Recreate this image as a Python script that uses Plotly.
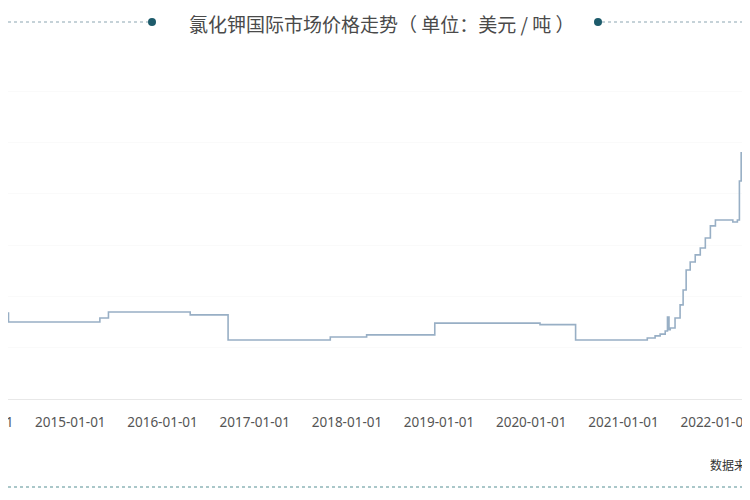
import plotly.graph_objects as go

# 氯化钾国际市场价格 (美元/吨)
dates = [
    "2014-01-01", "2014-05-01", "2015-04-28", "2015-06-01", "2016-04-20",
    "2016-09-17", "2017-10-27", "2018-03-20", "2018-12-15", "2020-02-05",
    "2020-06-25", "2021-04-05", "2021-05-06", "2021-05-26", "2021-06-15",
    "2021-06-24", "2021-06-30", "2021-07-05", "2021-07-24", "2021-08-13",
    "2021-08-25", "2021-09-06", "2021-09-22", "2021-10-12", "2021-11-01",
    "2021-11-21", "2021-12-11", "2021-12-31", "2022-02-08", "2022-03-10",
    "2022-03-28", "2022-04-05", "2022-04-12", "2022-04-20", "2022-05-01",
    "2022-05-26",
]
prices = [
    335, 300, 316, 339, 328,
    230, 242, 250, 296, 290,
    230, 238, 246, 253, 265,
    320, 270, 277, 316, 367,
    425, 503, 534, 562, 589,
    628, 675, 698, 698, 690,
    698, 850, 960, 990, 1005,
    1010,
]
tick_years = [2015, 2016, 2017, 2018, 2019, 2020, 2021, 2022]
tick_vals = [f"{y}-01-01" for y in tick_years]
cut_label = "2014-01-01"

title_text = "氯化钾国际市场价格走势（ 单位：美元 / 吨 ）"
source_text = "数据来源：百川盈孚"

# the page puts the figure 8px in from the top-left corner
OFF = 8
W, H = 750 - OFF, 500 - OFF
top, bottom = 40 - OFF, 399 - OFF
ph = bottom - top


def py(y):
    # window pixel row -> paper y
    return (bottom - (y - OFF)) / ph


def px(x):
    # window pixel column -> paper x
    return (x - OFF) / W


fig = go.Figure()
fig.add_trace(go.Scatter(
    x=dates, y=prices, mode="lines", line_shape="hv",
    line=dict(color="#98afc5", width=1.6), hoverinfo="skip",
))

dot_line = dict(color="#b3c3cc", width=1.5, dash="dot")
shapes = [
    dict(type="line", xref="paper", yref="paper", x0=0, x1=px(148), y0=py(22), y1=py(22),
         line=dot_line),
    dict(type="line", xref="paper", yref="paper", x0=px(602), x1=1, y0=py(22), y1=py(22),
         line=dot_line),
    dict(type="circle", xref="paper", yref="paper", x0=px(148), x1=px(156),
         y0=py(26), y1=py(18), fillcolor="#1d5b6b", line=dict(width=0)),
    dict(type="circle", xref="paper", yref="paper", x0=px(594), x1=px(602),
         y0=py(26), y1=py(18), fillcolor="#1d5b6b", line=dict(width=0)),
    dict(type="line", xref="paper", yref="paper", x0=0, x1=1, y0=py(487), y1=py(487),
         line=dict(color="#8fb5b8", width=1.5, dash="dot")),
]

annotations = [
    dict(text=title_text, xref="paper", yref="paper", x=px(381), y=py(23),
         xanchor="center", yanchor="middle", showarrow=False,
         font=dict(size=19, color="#4a4a4a", family="Noto Sans CJK SC")),
    dict(text=source_text, xref="paper", yref="paper", x=px(708), y=py(464),
         xanchor="left", yanchor="middle", showarrow=False,
         font=dict(size=12, color="#333333", family="Noto Sans CJK SC")),
    dict(text=cut_label, xref="paper", yref="paper", x=px(-22), y=py(422),
         xanchor="center", yanchor="middle", showarrow=False,
         font=dict(size=13.5, color="#555555", family="Noto Sans")),
]

fig.update_layout(
    width=W, height=H,
    margin=dict(l=0, r=0, t=top, b=H - bottom),
    paper_bgcolor="white", plot_bgcolor="white",
    showlegend=False,
    shapes=shapes, annotations=annotations,
    xaxis=dict(
        type="date", range=["2014-04-29", "2022-05-17"],
        tickvals=tick_vals, ticktext=tick_vals,
        showgrid=False, showline=True, linecolor="#e8e8e8", linewidth=1,
        ticks="", ticklabelstandoff=11, ticklabeloverflow="allow",
        tickfont=dict(size=13.5, color="#555555", family="Noto Sans"),
        fixedrange=True,
    ),
    yaxis=dict(
        range=[0, 1400], showgrid=True, gridcolor="#fafafa", dtick=200,
        showticklabels=False, zeroline=False, ticks="", fixedrange=True,
    ),
)

fig.write_html("out.html")
